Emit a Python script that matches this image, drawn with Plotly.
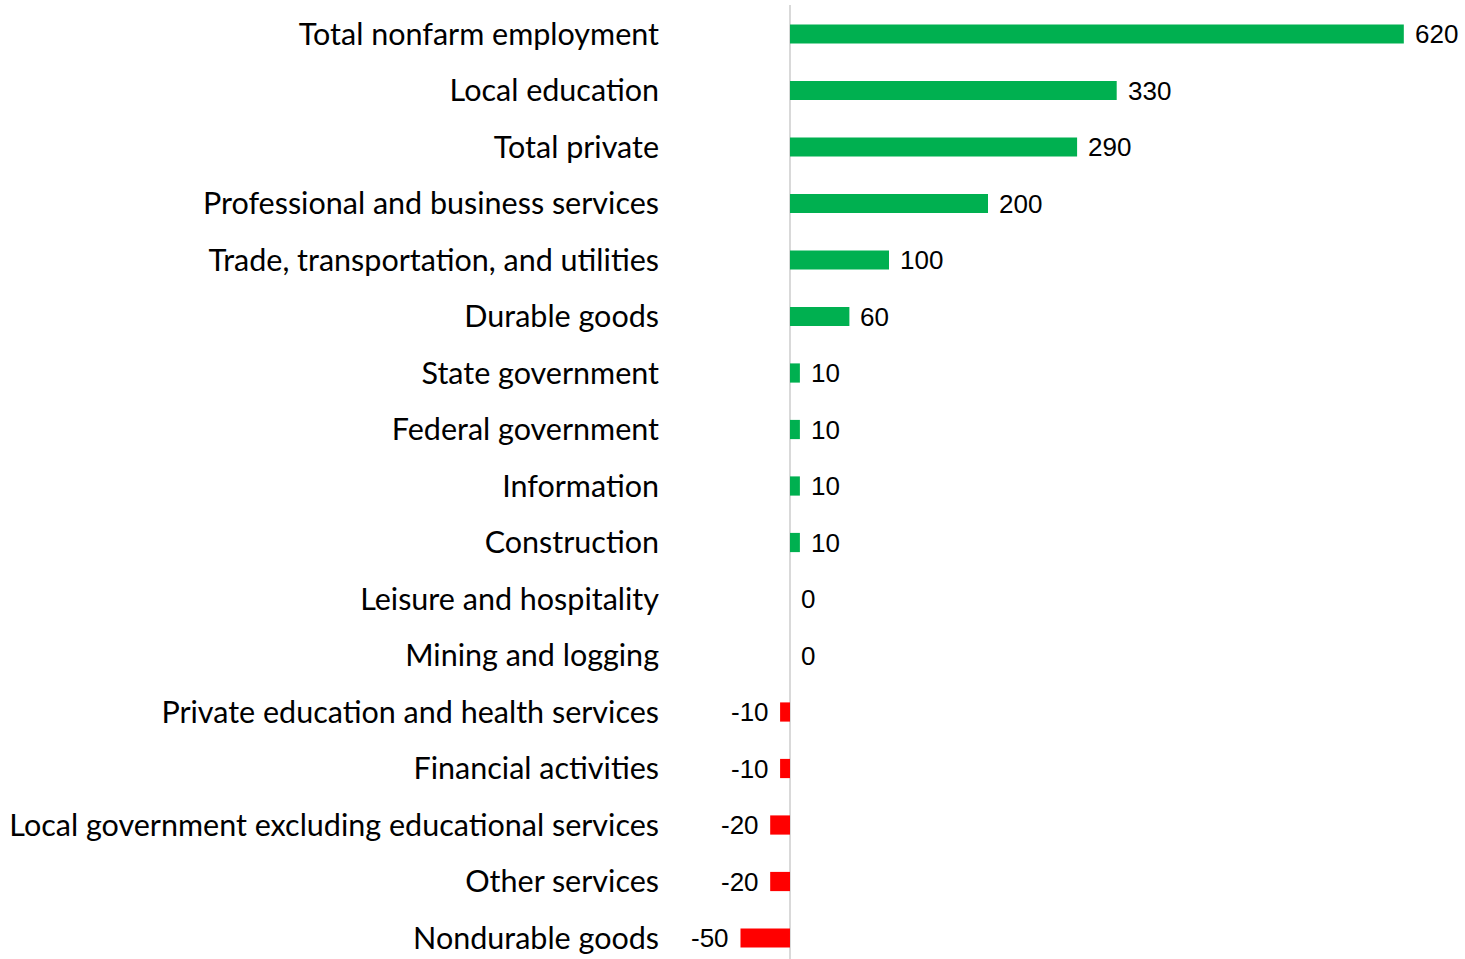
import plotly.graph_objects as go

# Employment change by industry (thousands)
categories = [
    "Total nonfarm employment",
    "Local education",
    "Total private",
    "Professional and business services",
    "Trade, transportation, and utilities",
    "Durable goods",
    "State government",
    "Federal government",
    "Information",
    "Construction",
    "Leisure and hospitality",
    "Mining and logging",
    "Private education and health services",
    "Financial activities",
    "Local government excluding educational services",
    "Other services",
    "Nondurable goods",
]
values = [620, 330, 290, 200, 100, 60, 10, 10, 10, 10, 0, 0, -10, -10, -20, -20, -50]

POS_COLOR = "#00B050"
NEG_COLOR = "#FF0000"
colors = [POS_COLOR if v >= 0 else NEG_COLOR for v in values]

fig = go.Figure()
fig.add_trace(go.Bar(
    y=categories,
    x=values,
    orientation="h",
    marker=dict(color=colors, line=dict(width=0)),
    width=0.34,
    hoverinfo="skip",
))

# Value labels next to the bar ends
for cat, v in zip(categories, values):
    fig.add_annotation(
        x=v, y=cat,
        text=str(v),
        showarrow=False,
        xanchor="left" if v >= 0 else "right",
        xshift=9 if v >= 0 else -9,
        yanchor="middle",
        font=dict(family="Liberation Sans, Arial, sans-serif", size=26, color="#000000"),
    )

row_px = 56.5
fig.update_layout(
    width=1465,
    height=959,
    margin=dict(l=670, r=0, t=5, b=0),
    paper_bgcolor="white",
    plot_bgcolor="white",
    showlegend=False,
    xaxis=dict(
        range=[-121.2, 681.8],
        showgrid=False,
        showticklabels=False,
        zeroline=True,
        zerolinecolor="#D9D9D9",
        zerolinewidth=2,
        showline=False,
        fixedrange=True,
    ),
    yaxis=dict(
        categoryorder="array",
        categoryarray=categories,
        range=[16 + 21 / row_px, -29 / row_px],
        showgrid=False,
        showline=False,
        zeroline=False,
        ticks="",
        ticklabelstandoff=10,
        tickfont=dict(family="Lato, sans-serif", size=30.5, color="#000000"),
        fixedrange=True,
    ),
)

fig.write_html("out.html")
